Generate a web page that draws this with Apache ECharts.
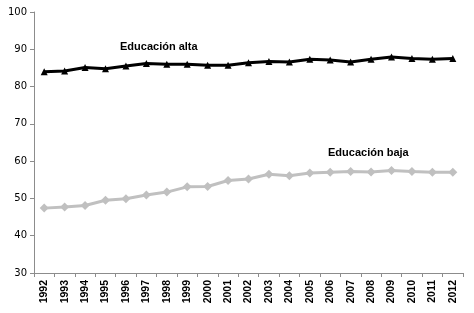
<!DOCTYPE html>
<html>
<head>
<meta charset="utf-8">
<script src="https://cdn.jsdelivr.net/npm/echarts@6/dist/echarts.min.js"></script>
<style>
  html, body { margin: 0; padding: 0; background: #fff; }
  #chart { width: 474px; height: 313px; }
</style>
</head>
<body>
<div id="chart"></div>
<script>
// años
const years = ["1992","1993","1994","1995","1996","1997","1998","1999","2000","2001","2002",
  "2003","2004","2005","2006","2007","2008","2009","2010","2011","2012"];

// porcentajes
const educacionAlta = [84.0, 84.2, 85.1, 84.8, 85.5, 86.2, 86.0, 86.0, 85.7, 85.7, 86.4,
  86.7, 86.6, 87.3, 87.1, 86.6, 87.3, 87.9, 87.5, 87.3, 87.5];
const educacionBaja = [47.4, 47.7, 48.1, 49.5, 49.9, 50.9, 51.7, 53.1, 53.2, 54.8, 55.2,
  56.5, 56.1, 56.8, 57.0, 57.2, 57.1, 57.5, 57.2, 57.0, 57.0];

const chart = echarts.init(document.getElementById("chart"));

const axisGray = "#8c8c8c";

chart.setOption({
  animation: false,
  grid: { left: 34, right: 11, top: 12, bottom: 40 },
  xAxis: {
    type: "category",
    data: years,
    boundaryGap: true,
    axisLine: { lineStyle: { color: axisGray, width: 1 } },
    axisTick: { show: true, length: 4, lineStyle: { color: axisGray } },
    axisLabel: {
      rotate: 90,
      interval: 0,
      margin: 7,
      color: "#000",
      fontFamily: "Arial, 'Liberation Sans', sans-serif",
      fontWeight: "bold",
      fontSize: 10.5
    }
  },
  yAxis: {
    type: "value",
    min: 30,
    max: 100,
    interval: 10,
    splitLine: { show: false },
    axisLine: { show: true, lineStyle: { color: axisGray, width: 1 } },
    axisTick: { show: true, length: 4, lineStyle: { color: axisGray } },
    axisLabel: {
      margin: 7,
      color: "#000",
      fontFamily: "Verdana, 'DejaVu Sans', sans-serif",
      fontSize: 10
    }
  },
  graphic: [
    {
      type: "text",
      left: 120,
      top: 41,
      style: {
        text: "Educación alta",
        fill: "#000",
        font: "bold 11px 'Liberation Sans Narrow', Arial, sans-serif"
      }
    },
    {
      type: "text",
      left: 328,
      top: 147,
      style: {
        text: "Educación baja",
        fill: "#000",
        font: "bold 11px 'Liberation Sans Narrow', Arial, sans-serif"
      }
    }
  ],
  series: [
    {
      name: "Educación alta",
      type: "line",
      data: educacionAlta,
      symbol: "triangle",
      symbolSize: 7,
      lineStyle: { color: "#000", width: 3 },
      itemStyle: { color: "#000" }
    },
    {
      name: "Educación baja",
      type: "line",
      data: educacionBaja,
      symbol: "diamond",
      symbolSize: 9,
      lineStyle: { color: "#c0c0c0", width: 3 },
      itemStyle: { color: "#c0c0c0" }
    }
  ]
});
</script>
</body>
</html>
